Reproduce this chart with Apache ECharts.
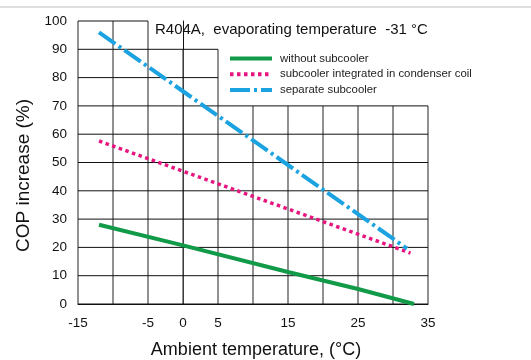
<!DOCTYPE html>
<html><head><meta charset="utf-8">
<script src="https://cdn.jsdelivr.net/npm/echarts@6/dist/echarts.min.js"></script>
<style>html,body{margin:0;padding:0;background:#fff}#c{width:531px;height:360px}</style>
</head><body><div id="c"></div>
<script>
// ---- data ----
var seriesNames = ['without subcooler', 'subcooler integrated in condenser coil', 'separate subcooler'];
var withoutSub = [[-12, 28], [0, 20.7], [15, 11.3], [25, 5.3], [33, 0]];
var integratedSub = [[-12, 57.6], [32.5, 18]];
var separateSub = [[-12, 96], [32, 19.6]];
var xTickLabels = [-15, -5, 0, 5, 15, 25, 35];
var xGridValues = [-15, -10, -5, 0, 5, 10, 15, 20, 25, 30, 35];
var yGridValues = [0, 10, 20, 30, 40, 50, 60, 70, 80, 90, 100];
var titleText = 'R404A,  evaporating temperature  -31 \u00b0C';

// ---- grid segments (partial grid leaving room for title & legend) ----
function topFor(x) { return x <= -5 ? 100 : (x <= 5 ? 90 : 70); }
function rightFor(y) { return y <= 70 ? 35 : (y <= 90 ? 5 : -5); }
var gridSegs = [];
xGridValues.forEach(function (x) { gridSegs.push([x, 0, x, topFor(x), 0]); });
yGridValues.forEach(function (y) { gridSegs.push([-15, y, rightFor(y), y, 1]); });

var chart = echarts.init(document.getElementById('c'), null, {renderer: 'canvas'});
var font = 'Liberation Sans, Arial, Helvetica, sans-serif';
chart.setOption({
  animation: false,
  backgroundColor: '#fff',
  grid: {left: 78, right: 103, top: 21, bottom: 56, containLabel: false, outerBoundsMode: 'none'},
  title: {text: titleText, left: 150, top: 17,
    textStyle: {fontFamily: font, fontSize: 15, fontWeight: 'normal', color: '#111'}},
  legend: {
    data: seriesNames, orient: 'vertical', left: 223, top: 48,
    itemWidth: 42, itemHeight: 14, itemGap: 4.5,
    itemStyle: {opacity: 0, borderWidth: 0},
    lineStyle: {width: 4},
    textStyle: {fontFamily: font, fontSize: 11.4, color: '#222', padding: [0, 0, 0, 3]}
  },
  graphic: [{type: 'line', shape: {x1: 0, y1: 7, x2: 531, y2: 7},
    style: {stroke: '#dedede', lineWidth: 2}}],
  xAxis: {
    type: 'value', min: -15, max: 35, interval: 5,
    name: 'Ambient temperature, (\u00b0C)', nameLocation: 'middle', nameGap: 37,
    nameTextStyle: {fontFamily: font, fontSize: 18, color: '#111', padding: [0, 0, 0, 6]},
    axisLine: {show: true, onZero: false, lineStyle: {color: '#111', width: 1}},
    axisTick: {show: false},
    splitLine: {show: false},
    axisLabel: {margin: 12, fontFamily: font, fontSize: 13.5, color: '#111',
      formatter: function (v) { return xTickLabels.indexOf(v) >= 0 ? String(v) : ''; }}
  },
  yAxis: {
    type: 'value', min: 0, max: 100, interval: 10,
    name: 'COP increase (%)', nameLocation: 'middle', nameGap: 44,
    nameTextStyle: {fontFamily: font, fontSize: 19, color: '#111', padding: [0, 26, 0, 0]},
    axisLine: {show: true, lineStyle: {color: '#111', width: 1}},
    axisTick: {show: false},
    splitLine: {show: false},
    axisLabel: {margin: 11, fontFamily: font, fontSize: 13.5, color: '#111'}
  },
  series: [
    {
      type: 'custom', name: 'grid', silent: true, z: 1,
      data: gridSegs,
      renderItem: function (params, api) {
        var p1 = api.coord([api.value(0), api.value(1)]);
        var p2 = api.coord([api.value(2), api.value(3)]);
        var horiz = api.value(4) === 1;
        return {type: 'line', shape: {x1: p1[0], y1: p1[1], x2: p2[0], y2: p2[1]},
          style: {stroke: horiz ? '#111' : '#555', lineWidth: horiz ? 1 : 1.3}};
      }
    },
    {
      name: seriesNames[0], type: 'line', data: withoutSub, symbol: 'none', z: 3,
      itemStyle: {color: '#119a48'},
      lineStyle: {color: '#119a48', width: 4, type: 'solid'}
    },
    {
      name: seriesNames[1], type: 'line', data: integratedSub, symbol: 'none', z: 4,
      itemStyle: {color: '#e6157f'},
      lineStyle: {color: '#e6157f', width: 3.5, type: [3.5, 3.5], cap: 'butt'}
    },
    {
      name: seriesNames[2], type: 'line', data: separateSub, symbol: 'none', z: 5,
      itemStyle: {color: '#1ba3e1'},
      lineStyle: {color: '#1ba3e1', width: 4, type: [20, 4, 3, 4], cap: 'butt'}
    }
  ]
});
</script></body></html>
